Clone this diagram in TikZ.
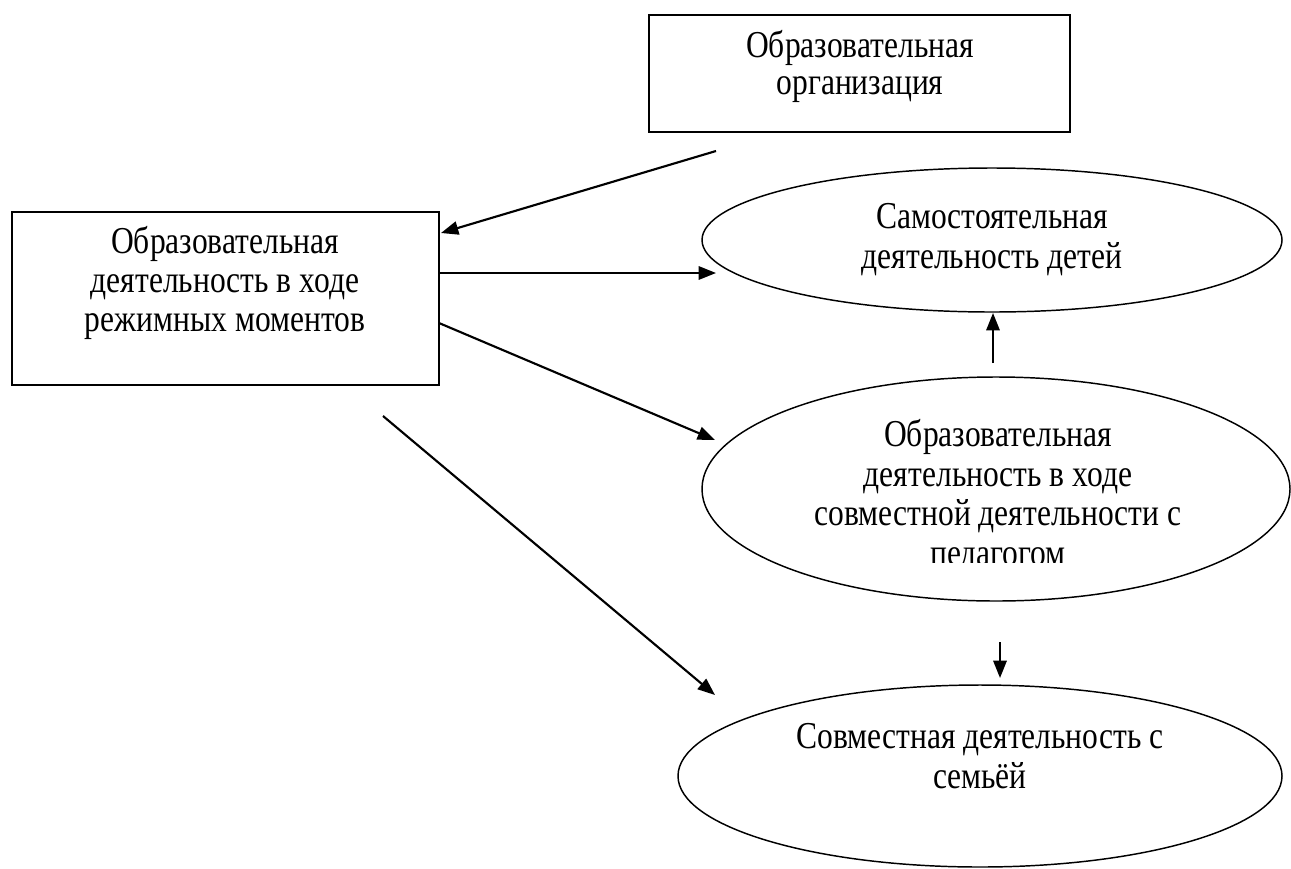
\documentclass[tikz,border=0pt]{standalone}
\usepackage{fontspec}
\setmainfont[FakeStretch=0.83]{Liberation Serif}
\usetikzlibrary{arrows.meta,shapes.geometric}
\begin{document}
\begin{tikzpicture}[x=0.75pt,y=-0.75pt,
  box/.style={draw,line width=1.5pt,rectangle,inner sep=0pt},
  oval/.style={draw,line width=1.1pt,ellipse,inner sep=0pt},
  txt/.style={anchor=base,inner sep=0pt,font=\fontsize{28.5}{34}\selectfont},
  conn/.style={line width=1.6pt,-{Triangle[length=13pt,width=10pt]}}]
\useasboundingbox (0,0) rectangle (1291,868);
% shapes
\node[box,minimum width=315.75pt,minimum height=87.75pt] (org) at (859.5,73.5) {};
\node[box,minimum width=320.25pt,minimum height=129.75pt] (reg) at (225.5,298.5) {};
\node[oval,minimum width=435pt,minimum height=108pt] (sam) at (992,240) {};
\node[oval,minimum width=441pt,minimum height=168pt] (sov) at (996,489) {};
\node[oval,minimum width=453pt,minimum height=136.5pt] (sem) at (980,776) {};
% texts
\node[txt] (orgA) at (860,57) {Образовательная};
\node[txt] (orgB) at (860,94) {организация};
\node[txt] (regA) at (225,253) {Образовательная};
\node[txt] (regB) at (225,292) {деятельность в ходе};
\node[txt] (regC) at (225,331) {режимных моментов};
\node[txt] (samA) at (992,228) {Самостоятельная};
\node[txt] (samB) at (992,268) {деятельность детей};
\node[txt] (sovA) at (998,446) {Образовательная};
\node[txt] (sovB) at (998,486) {деятельность в ходе};
\node[txt] (sovC) at (998,525) {совместной деятельности с};
\begin{scope}
  \clip (690,377) rectangle (1291,562);
  \node[txt] (sovD) at (998,565) {педагогом};
\end{scope}
\node[txt] (semA) at (980,748) {Совместная деятельность с};
\node[txt] (semB) at (980,788) {семьёй};
% connector ends
\coordinate (c1s) at (716,151); \coordinate (c1e) at (441,233);
\coordinate (c2s) at (439,273); \coordinate (c2e) at (716,273);
\coordinate (c3s) at (439,323); \coordinate (c3e) at (715,440);
\coordinate (c4s) at (383,416); \coordinate (c4e) at (715,695);
\coordinate (c5s) at (993,363); \coordinate (c5e) at (993,313);
\coordinate (c6s) at (1000,642); \coordinate (c6e) at (1000,678);
\draw[conn] (c1s) -- (c1e);
\draw[conn] (c2s) -- (c2e);
\draw[conn] (c3s) -- (c3e);
\draw[conn] (c4s) -- (c4e);
\draw[conn] (c5s) -- (c5e);
\draw[conn] (c6s) -- (c6e);
\end{tikzpicture}
\end{document}
